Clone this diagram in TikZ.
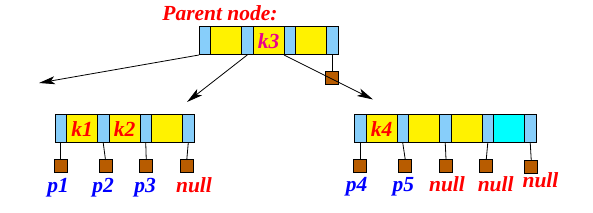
\documentclass[tikz,border=0pt]{standalone}
\usepackage{fontspec}
\setmainfont{Liberation Serif}
\usetikzlibrary{arrows.meta}
\definecolor{cellblue}{RGB}{135,206,250}
\definecolor{cellcyan}{RGB}{0,255,255}
\definecolor{ptrbrown}{RGB}{184,92,0}
\begin{document}
\begin{tikzpicture}[x=1pt, y=-1pt,
  txt/.style={font=\fontsize{21.5}{25}\selectfont\bfseries\itshape},
  cell/.style={draw, line width=1pt, minimum height=28pt, inner sep=0pt, outer sep=0pt},
  ptr/.style={cell, fill=cellblue, minimum width=11.5pt},
  key/.style={cell, fill=yellow, minimum width=31pt, txt, text=red},
  pbox/.style={draw, line width=1pt, fill=ptrbrown, minimum size=13pt, inner sep=0pt, outer sep=0pt},
  lab/.style={txt, anchor=base, inner sep=0pt},
  link/.style={line width=0.8pt, -{Stealth[length=16pt, width=8pt, inset=4pt]}}]
\useasboundingbox (0,0) rectangle (593,213);
\node[lab, text=red] (title) at (220,20.7) {Parent node:};
% parent
\node[ptr] (P1) at (204.75,41) {};
\node[key] (P2) at (226,41) {};
\node[ptr] (P3) at (247.25,41) {};
\node[key, text=magenta] (P4) at (268.5,41) {k3};
\node[ptr] (P5) at (289.75,41) {};
\node[key] (P6) at (311,41) {};
\node[ptr] (P7) at (332.25,41) {};
\node[pbox] (pp) at (332.25,78) {};
\draw[line width=0.8pt] (P7.south) -- (pp.north);
% left child
\node[ptr] (L1) at (60.75,129) {};
\node[key] (L2) at (82,129) {k1};
\node[ptr] (L3) at (103.25,129) {};
\node[key] (L4) at (124.5,129) {k2};
\node[ptr] (L5) at (145.75,129) {};
\node[key] (L6) at (167,129) {};
\node[ptr] (L7) at (188.25,129) {};
\node[pbox] (lp1) at (60.75,166.5) {};
\node[pbox] (lp2) at (105.5,166.5) {};
\node[pbox] (lp3) at (146.25,166.5) {};
\node[pbox] (lp4) at (186.75,166.5) {};
\draw[line width=0.8pt] (L1.south) -- (lp1.north);
\draw[line width=0.8pt] (L3.south) -- (lp2.north);
\draw[line width=0.8pt] (L5.south) -- (lp3.north);
\draw[line width=0.8pt] (L7.south) -- (lp4.north);
\node[lab, text=blue] (ll1) at (58,193) {p1};
\node[lab, text=blue] (ll2) at (103,193) {p2};
\node[lab, text=blue] (ll3) at (145,193) {p3};
\node[lab, text=red] (ll4) at (194,193) {null};
% right child
\node[ptr] (R1) at (360.25,129) {};
\node[key] (R2) at (381.5,129) {k4};
\node[ptr] (R3) at (402.75,129) {};
\node[key] (R4) at (424,129) {};
\node[ptr] (R5) at (445.25,129) {};
\node[key] (R6) at (466.5,129) {};
\node[ptr] (R7) at (487.75,129) {};
\node[key, fill=cellcyan] (R8) at (509,129) {};
\node[ptr] (R9) at (530.25,129) {};
\node[pbox] (rp1) at (360.25,166) {};
\node[pbox] (rp2) at (405.25,166) {};
\node[pbox] (rp3) at (446,166) {};
\node[pbox] (rp4) at (486.25,166) {};
\node[pbox] (rp5) at (531.25,167) {};
\draw[line width=0.8pt] (R1.south) -- (rp1.north);
\draw[line width=0.8pt] (R3.south) -- (rp2.north);
\draw[line width=0.8pt] (R5.south) -- (rp3.north);
\draw[line width=0.8pt] (R7.south) -- (rp4.north);
\draw[line width=0.8pt] (R9.south) -- (rp5.north);
\node[lab, text=blue] (rl1) at (356.7,191.7) {p4};
\node[lab, text=blue] (rl2) at (403.3,191.7) {p5};
\node[lab, text=red] (rl3) at (447,191.7) {null};
\node[lab, text=red] (rl4) at (495.7,191.7) {null};
\node[lab, text=red] (rl5) at (540.5,188) {null};
% links from the parent
\coordinate (t1) at (39,83);
\coordinate (t2) at (187,102);
\coordinate (t3) at (373,99.5);
\draw[link] (P1.south west) -- (t1);
\draw[link] (P3.south) -- (t2);
\draw[link] (P5.south west) -- (t3);
\end{tikzpicture}
\end{document}
